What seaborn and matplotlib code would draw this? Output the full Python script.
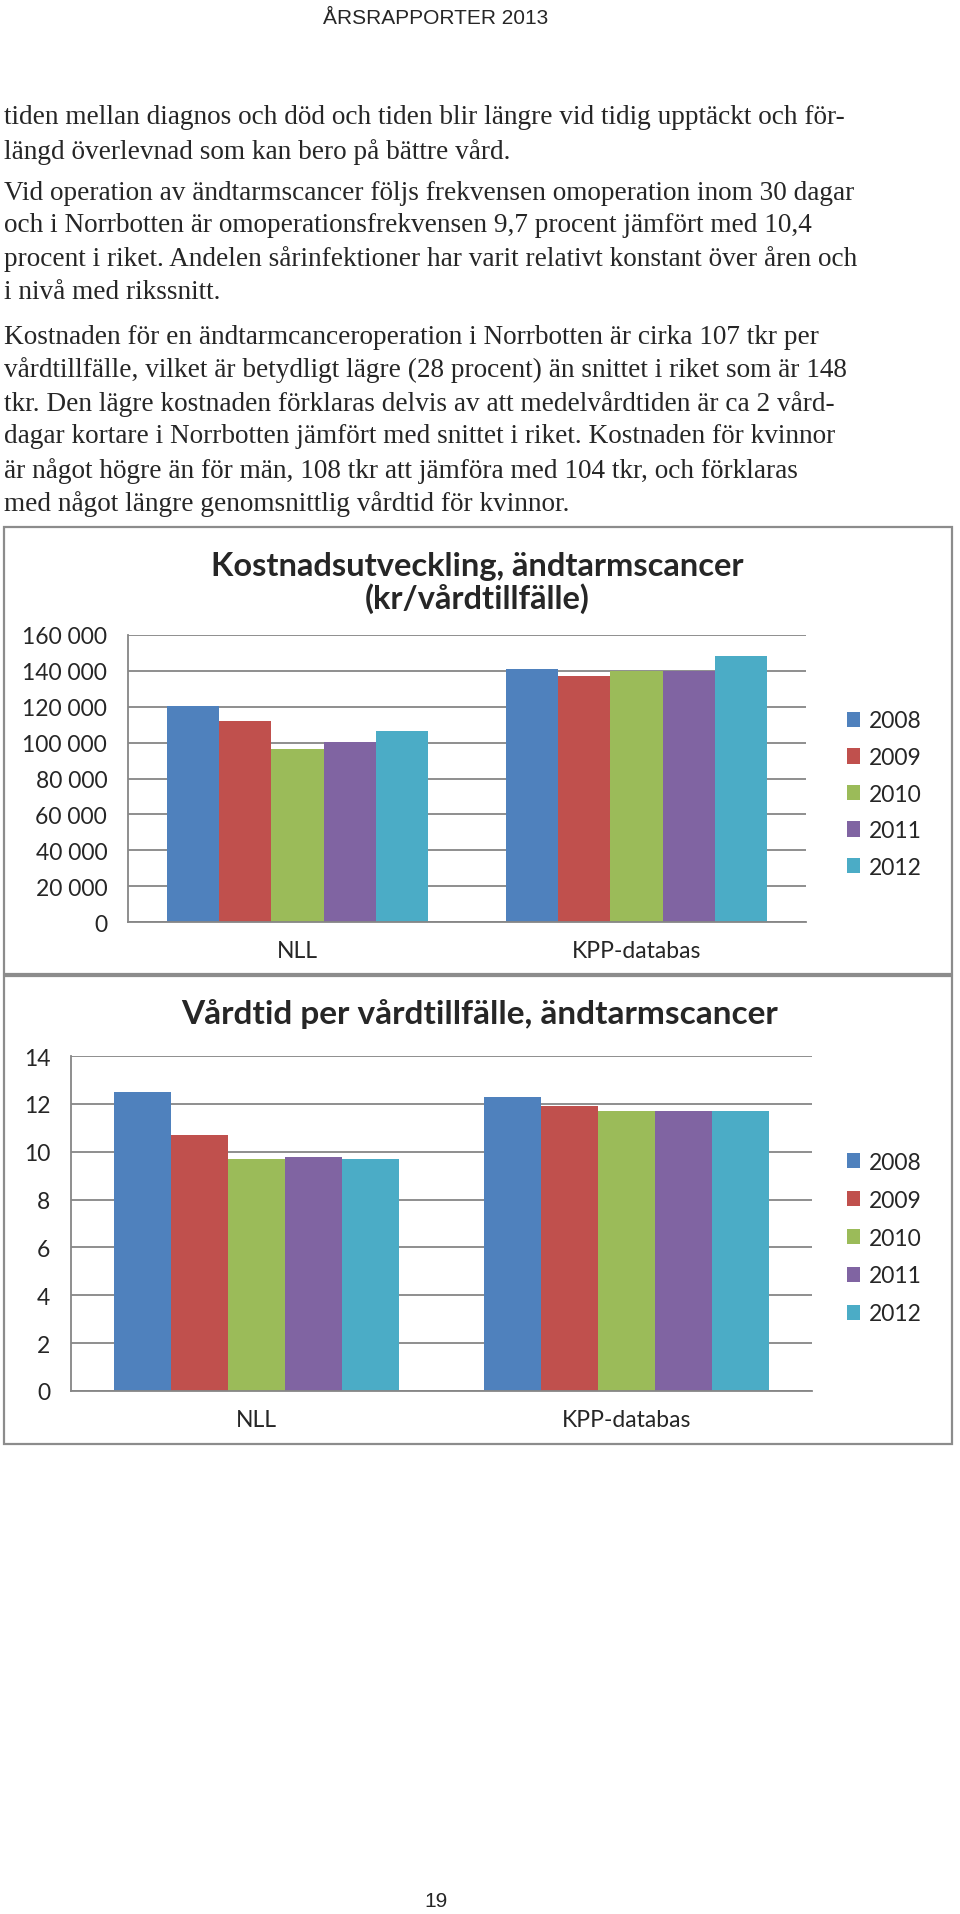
import pandas as pd
import matplotlib
matplotlib.use('Agg')
import matplotlib.pyplot as plt
import seaborn as sns
from matplotlib.patches import Rectangle

# --- data ---
categories = ['NLL', 'KPP-databas']
years = ['2008', '2009', '2010', '2011', '2012']
year_colors = ['#4F81BD', '#C0504D', '#9BBB59', '#8064A2', '#4BACC6']

cost_nll = [120500, 112200, 96400, 100300, 106600]
cost_kpp = [141000, 137300, 139900, 139900, 148300]
cost_ticks = [0, 20000, 40000, 60000, 80000, 100000, 120000, 140000, 160000]
cost_ticklabels = ['0', '20 000', '40 000', '60 000', '80 000', '100 000',
                   '120 000', '140 000', '160 000']

stay_nll = [12.5, 10.7, 9.68, 9.8, 9.68]
stay_kpp = [12.3, 11.91, 11.71, 11.71, 11.71]
stay_ticks = [0, 2, 4, 6, 8, 10, 12, 14]

header = 'ÅRSRAPPORTER 2013'
page_no = '19'
body_lines = [
    'tiden mellan diagnos och död och tiden blir längre vid tidig upptäckt och för-',
    'längd överlevnad som kan bero på bättre vård.',
    'Vid operation av ändtarmscancer följs frekvensen omoperation inom 30 dagar',
    'och i Norrbotten är omoperationsfrekvensen 9,7 procent jämfört med 10,4',
    'procent i riket. Andelen sårinfektioner har varit relativt konstant över åren och',
    'i nivå med rikssnitt.',
    'Kostnaden för en ändtarmcanceroperation i Norrbotten är cirka 107 tkr per',
    'vårdtillfälle, vilket är betydligt lägre (28 procent) än snittet i riket som är 148',
    'tkr. Den lägre kostnaden förklaras delvis av att medelvårdtiden är ca 2 vård-',
    'dagar kortare i Norrbotten jämfört med snittet i riket. Kostnaden för kvinnor',
    'är något högre än för män, 108 tkr att jämföra med 104 tkr, och förklaras',
    'med något längre genomsnittlig vårdtid för kvinnor.',
]
body_y = [118, 152, 193, 226, 259, 293, 337, 370, 404, 437, 471, 504]

cost_title = 'Kostnadsutveckling, ändtarmscancer\n(kr/vårdtillfälle)'
stay_title = 'Vårdtid per vårdtillfälle, ändtarmscancer'


def long_table(nll, kpp):
    rows = []
    for y, a, b in zip(years, nll, kpp):
        rows.append({'grupp': categories[0], 'ar': y, 'varde': a})
        rows.append({'grupp': categories[1], 'ar': y, 'varde': b})
    return pd.DataFrame(rows)


cost_df = long_table(cost_nll, cost_kpp)
stay_df = long_table(stay_nll, stay_kpp)

sns.set_style('white')
plt.rcParams['font.family'] = ['Lato', 'DejaVu Sans']

W, H = 960, 1915
fig = plt.figure(figsize=(W / 100, H / 100), dpi=100)


def fx(px):
    return px / W


def fy(py):
    return 1 - py / H


# --- page text ---
fig.text(fx(436), fy(18), header, ha='center', va='center', fontsize=15,
         family=['Liberation Sans Narrow', 'Liberation Sans', 'DejaVu Sans'])
for line, y in zip(body_lines, body_y):
    fig.text(fx(4), fy(y), line, ha='left', va='center', fontsize=19.6,
             family=['Liberation Serif', 'DejaVu Serif'])
fig.text(fx(436), fy(1902), page_no, ha='center', va='center', fontsize=15,
         family=['Liberation Sans Narrow', 'Liberation Sans', 'DejaVu Sans'])

# chart frames
for top, bottom in [(528, 975), (977, 1445)]:
    fig.patches.append(Rectangle((fx(4), fy(bottom)), fx(948), (bottom - top) / H,
                                 transform=fig.transFigure, fill=False,
                                 edgecolor='#8c8c8c', linewidth=1.6))

grid_col = '#868686'


def bar_chart(ax, df, ticks, ticklabels, legend_y, spacing):
    sns.barplot(data=df, x='grupp', y='varde', hue='ar', order=categories,
                hue_order=years, palette=year_colors, saturation=1,
                width=0.77, gap=0, linewidth=0, ax=ax)
    ax.set_xlim(-0.5, 1.5)
    ax.set_ylim(ticks[0], ticks[-1])
    ax.set_yticks(ticks)
    ax.set_yticklabels(ticklabels)
    ax.set_xlabel('')
    ax.set_ylabel('')
    ax.yaxis.grid(True, color=grid_col, linewidth=1.3)
    ax.set_axisbelow(True)
    for s in ['top', 'right']:
        ax.spines[s].set_visible(False)
    for s in ['left', 'bottom']:
        ax.spines[s].set_color(grid_col)
        ax.spines[s].set_linewidth(1.3)
    ax.tick_params(axis='both', length=0, labelsize=16.5)
    ax.tick_params(axis='x', pad=13)
    ax.tick_params(axis='y', pad=15)
    handles, labels = ax.get_legend_handles_labels()
    ax.legend(handles, labels, loc='center left',
              bbox_to_anchor=(fx(847), fy(legend_y)),
              bbox_transform=fig.transFigure, frameon=False, fontsize=16.5,
              handlelength=0.55, handleheight=0.65, handletextpad=0.4,
              labelspacing=spacing, borderpad=0, borderaxespad=0)


# --- chart 1: cost per care episode ---
ax1 = fig.add_axes([fx(128), fy(923), (806 - 128) / W, (923 - 636) / H])
bar_chart(ax1, cost_df, cost_ticks, cost_ticklabels, 795, 0.68)
fig.text(fx(477), fy(583), cost_title, ha='center', va='center',
         fontsize=23.5, fontweight='bold', linespacing=1.08)

# --- chart 2: length of stay ---
ax2 = fig.add_axes([fx(71), fy(1392), (812 - 71) / W, (1392 - 1057) / H])
bar_chart(ax2, stay_df, stay_ticks, [str(t) for t in stay_ticks], 1239, 0.74)
fig.text(fx(480), fy(1014), stay_title, ha='center', va='center',
         fontsize=24, fontweight='bold')

fig.savefig('out.png', dpi=100)
